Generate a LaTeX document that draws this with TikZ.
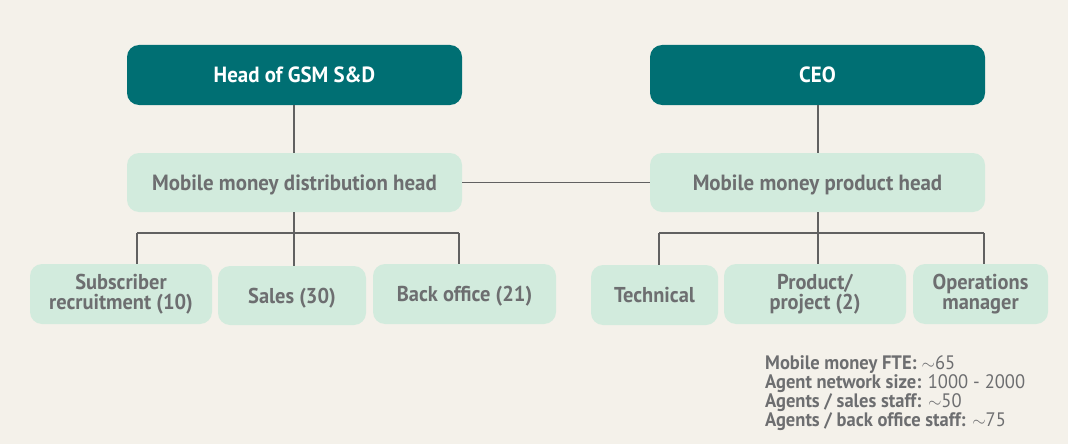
\documentclass[tikz,border=0pt]{standalone}
\usepackage{fontspec}
\setmainfont[FakeStretch=0.95]{PT Sans}
\definecolor{bg}{HTML}{F4F1EA}
\definecolor{teal}{HTML}{006F73}
\definecolor{mint}{HTML}{D2EBDD}
\definecolor{txt}{HTML}{6D6E70}
\definecolor{ln}{HTML}{616161}
\newcommand{\approxsym}{{\fontsize{16}{16}\selectfont$\sim$}}
\tikzset{
  topbox/.style={fill=teal, rounded corners=12pt, text=white, font=\fontsize{22}{24}\selectfont\bfseries, align=center, inner sep=0pt},
  midbox/.style={fill=mint, rounded corners=12pt, text=txt, font=\fontsize{22}{24}\selectfont\bfseries, align=center, inner sep=0pt},
  leafbox/.style={fill=mint, rounded corners=12pt, text=txt, font=\fontsize{21.5}{20.5}\selectfont\bfseries, align=center, inner sep=0pt},
  oneline/.style={text height=15pt, text depth=0pt},
  conn/.style={draw=ln, line width=1.2pt}
}
\begin{document}
\begin{tikzpicture}[x=1pt,y=-1pt]
\fill[bg] (0,0) rectangle (1068,444);
\useasboundingbox (0,0) rectangle (1068,444);
\node[topbox, oneline, minimum width=335pt, minimum height=60pt] (head) at (294.5,75) {Head of GSM S\&D};
\node[topbox, oneline, minimum width=335pt, minimum height=60pt] (ceo) at (817.5,75) {CEO};
\node[midbox, oneline, minimum width=335pt, minimum height=59pt] (dist) at (294.5,182.5) {Mobile money distribution head};
\node[midbox, oneline, minimum width=335pt, minimum height=59pt] (prod) at (817.5,182.5) {Mobile money product head};
\node[leafbox, minimum width=182pt, minimum height=60pt] (sub) at (121,294) {Subscriber\\recruitment (10)};
\node[leafbox, oneline, minimum width=148pt, minimum height=59pt] (sales) at (292,295.5) {Sales (30)};
\node[leafbox, oneline, minimum width=183pt, minimum height=60pt] (back) at (464.5,294) {Back office (21)};
\node[leafbox, oneline, minimum width=127pt, minimum height=60pt] (tech) at (654.5,295) {Technical};
\node[leafbox, minimum width=182pt, minimum height=60pt] (proj) at (815,294) {Product/\\project (2)};
\node[leafbox, minimum width=135pt, minimum height=60pt] (ops) at (980.5,294) {Operations\\manager};
\coordinate (lbm) at (294,233);
\coordinate (lbl) at (137,233);
\coordinate (lbr) at (459,233);
\coordinate (rbm) at (818,233);
\coordinate (rbl) at (659,233);
\coordinate (rbr) at (984,233);
\draw[conn] (head.south -| lbm) -- (dist.north -| lbm);
\draw[conn] (ceo.south -| rbm) -- (prod.north -| rbm);
\draw[conn] (dist.east) -- (prod.west);
\draw[conn] (dist.south -| lbm) -- (lbm);
\draw[conn] (lbl) -- (lbr);
\draw[conn] (lbl) -- (lbl |- sub.north);
\draw[conn] (lbm) -- (lbm |- sales.north);
\draw[conn] (lbr) -- (lbr |- back.north);
\draw[conn] (prod.south -| rbm) -- (rbm);
\draw[conn] (rbl) -- (rbr);
\draw[conn] (rbl) -- (rbl |- tech.north);
\draw[conn] (rbm) -- (rbm |- proj.north);
\draw[conn] (rbr) -- (rbr |- ops.north);
\node[anchor=north west, inner sep=0pt, align=left, text=txt, font=\fontsize{19.5}{19.2}\selectfont] (stats) at (765,355)
{\textbf{Mobile money FTE:} \approxsym65\\
\textbf{Agent network size:} 1000 - 2000\\
\textbf{Agents / sales staff:} \approxsym50\\
\textbf{Agents / back office staff:} \approxsym75};
\end{tikzpicture}
\end{document}
